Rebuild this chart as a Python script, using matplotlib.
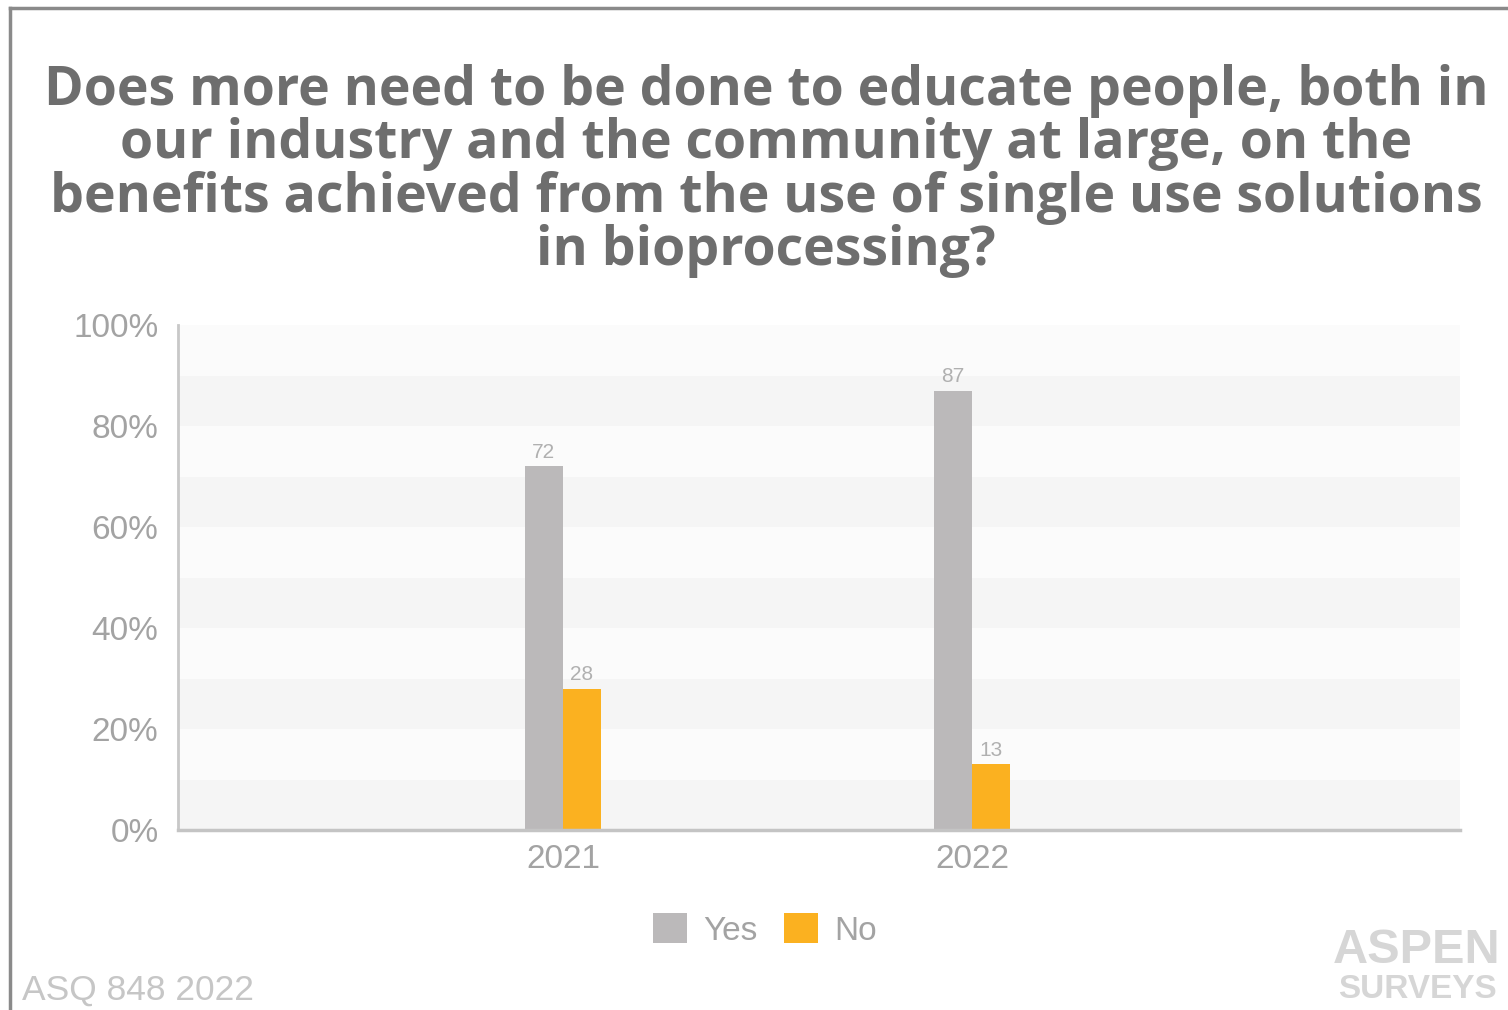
import matplotlib
matplotlib.use("Agg")
import matplotlib.pyplot as plt
import numpy as np

categories = ["2021", "2022"]
yes_values = [72, 87]
no_values = [28, 13]
series_names = ["Yes", "No"]
y_ticks = [0, 20, 40, 60, 80, 100]
y_tick_labels = ["0%", "20%", "40%", "60%", "80%", "100%"]
title = ("Does more need to be done to educate people, both in\n"
         "our industry and the community at large, on the\n"
         "benefits achieved from the use of single use solutions\n"
         "in bioprocessing?")

W, H = 1508, 1010
fig = plt.figure(figsize=(W / 100, H / 100), dpi=100)
fig.patch.set_facecolor("white")

ax_l, ax_r, ax_t, ax_b = 178, 1460, 325, 830
ax = fig.add_axes([ax_l / W, 1 - ax_b / H, (ax_r - ax_l) / W, (ax_b - ax_t) / H])
ax.set_facecolor("white")

gray = "#bbb9ba"
orange = "#fbb120"
label_col = "#a3a3a3"

for i in range(10):
    lo = i * 10
    col = "#f5f5f5" if i % 2 == 0 else "#fbfbfb"
    ax.axhspan(lo, lo + 10, color=col, zorder=0, lw=0)

x = np.arange(len(categories))
bw = 0.093
b1 = ax.bar(x - bw / 2, yes_values, bw, color=gray, zorder=2, label=series_names[0])
b2 = ax.bar(x + bw / 2, no_values, bw, color=orange, zorder=2, label=series_names[1])
for bars, vals in ((b1, yes_values), (b2, no_values)):
    for r, v in zip(bars, vals):
        ax.annotate(str(v), (r.get_x() + r.get_width() / 2, v), xytext=(0, 3),
                    textcoords="offset points", ha="center", va="bottom",
                    fontsize=15, color="#b0b0b0", family="Liberation Sans")

ax.set_xlim(-0.941, 2.193)
ax.set_ylim(0, 100)
ax.set_yticks(y_ticks)
ax.set_yticklabels(y_tick_labels)
ax.set_xticks(x)
ax.set_xticklabels(categories)
ax.tick_params(axis="both", length=0, labelsize=24, labelcolor=label_col)
ax.tick_params(axis="y", pad=14)
ax.tick_params(axis="x", pad=10)
for lab in ax.get_xticklabels() + ax.get_yticklabels():
    lab.set_family("Liberation Sans")
for s in ("top", "right"):
    ax.spines[s].set_visible(False)
ax.spines["left"].set_color("#c8c8c8")
ax.spines["left"].set_linewidth(2)
ax.spines["bottom"].set_color("#c4c4c4")
ax.spines["bottom"].set_linewidth(2.5)

leg = fig.legend(handles=[b1, b2], labels=series_names, loc="center",
                 bbox_to_anchor=(765 / W, 1 - 930 / H), ncol=2, frameon=False,
                 prop={"family": "Liberation Sans", "size": 24},
                 handlelength=1.0, handleheight=1.0, columnspacing=0.8,
                 handletextpad=0.5)
for t in leg.get_texts():
    t.set_color(label_col)

fig.text(766 / W, 1 - 171 / H, title, ha="center", va="center", fontsize=38.6,
         fontweight="bold", color="#6e6e6e", family="Open Sans", linespacing=0.98)

fig.text(22 / W, 1 - 990 / H, "ASQ 848 2022", ha="left", va="center",
         fontsize=25.5, color="#c6c6c6", family="Liberation Sans")
fig.text(1500 / W, 1 - 963 / H, "ASPEN", ha="right", va="baseline",
         fontsize=35, fontweight="bold", color="#d6d6d6", family="Liberation Sans")
fig.text(1497 / W, 1 - 998 / H, "SURVEYS", ha="right", va="baseline",
         fontsize=24, fontweight="bold", color="#d6d6d6", family="Liberation Sans")

fig.add_artist(plt.Line2D([10 / W, 10 / W], [0, 1 - 8 / H], transform=fig.transFigure,
                          color="#8a8a8a", lw=2.5))
fig.add_artist(plt.Line2D([10 / W, 1], [1 - 8 / H, 1 - 8 / H], transform=fig.transFigure,
                          color="#8a8a8a", lw=2.5))

fig.savefig("out.png", dpi=100, facecolor="white")
